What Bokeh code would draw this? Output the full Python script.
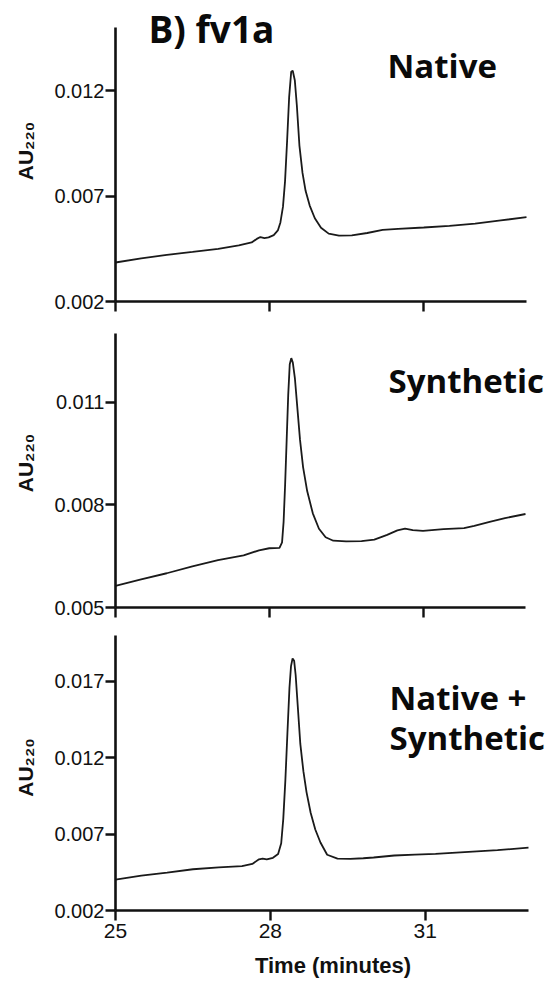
from bokeh.plotting import figure
from bokeh.layouts import column
from bokeh.models import FixedTicker, PrintfTickFormatter, Label, Range1d
from bokeh.embed import file_html
from bokeh.resources import INLINE

# ---------------- data ----------------
t_native = [25.0, 25.5, 26.0, 26.5, 27.0, 27.4, 27.65, 27.75, 27.82, 27.9, 27.98, 28.08, 28.16,
            28.21, 28.26, 28.30, 28.34, 28.38, 28.42, 28.45, 28.49, 28.53, 28.58, 28.64, 28.70,
            28.78, 28.88, 29.0, 29.15, 29.35, 29.6, 29.9, 30.2, 30.5, 31.0, 31.5, 32.0, 32.5, 33.0]
au_native = [0.00385, 0.00405, 0.00421, 0.00435, 0.00450, 0.00466, 0.00480, 0.00497, 0.00506,
             0.00501, 0.00504, 0.00515, 0.00537, 0.00575, 0.00650, 0.00770, 0.00960, 0.01170,
             0.01290, 0.01295, 0.01250, 0.01130, 0.00940, 0.00810, 0.00725, 0.00655, 0.00595,
             0.00550, 0.00522, 0.00513, 0.00514, 0.00525, 0.00540, 0.00545, 0.00551, 0.00559,
             0.00569, 0.00585, 0.00600]

t_synth = [25.0, 25.5, 26.0, 26.5, 27.0, 27.5, 27.8, 28.0, 28.2, 28.25, 28.28, 28.31, 28.34,
           28.37, 28.40, 28.43, 28.46, 28.50, 28.55, 28.60, 28.66, 28.74, 28.85, 28.97, 29.1,
           29.25, 29.5, 29.8, 30.05, 30.3, 30.5, 30.65, 30.8, 31.0, 31.4, 31.8, 32.0, 32.3,
           32.6, 33.0]
au_synth = [0.00563, 0.00582, 0.00600, 0.00620, 0.00638, 0.00652, 0.00667, 0.00673, 0.00674,
            0.00690, 0.00750, 0.00860, 0.00990, 0.01120, 0.01210, 0.01228, 0.01215, 0.01170,
            0.01080, 0.00990, 0.00910, 0.00840, 0.00775, 0.00730, 0.00705, 0.00695, 0.00693,
            0.00694, 0.00698, 0.00712, 0.00725, 0.00730, 0.00726, 0.00724, 0.00729, 0.00732,
            0.00738, 0.00750, 0.00761, 0.00773]

t_mix = [25.0, 25.5, 26.0, 26.5, 27.0, 27.45, 27.65, 27.78, 27.85, 27.93, 28.05, 28.15, 28.21,
         28.25, 28.29, 28.33, 28.37, 28.40, 28.43, 28.46, 28.49, 28.53, 28.58, 28.64, 28.70,
         28.78, 28.87, 28.97, 29.1, 29.3, 29.55, 29.8, 30.0, 30.4, 30.8, 31.2, 31.6, 32.0,
         32.4, 33.0]
au_mix = [0.00402, 0.00428, 0.00448, 0.00470, 0.00482, 0.00490, 0.00505, 0.00535, 0.00540,
          0.00534, 0.00545, 0.00570, 0.00640, 0.00800, 0.01050, 0.01360, 0.01660, 0.01800,
          0.01850, 0.01835, 0.01740, 0.01540, 0.01290, 0.01110, 0.00975, 0.00840, 0.00730,
          0.00645, 0.00565, 0.00540, 0.00538, 0.00542, 0.00547, 0.00560, 0.00566, 0.00570,
          0.00579, 0.00587, 0.00595, 0.00611]

x_ticks = [25, 28, 31]
y_ticks_native = [0.002, 0.007, 0.012]
y_ticks_synth = [0.005, 0.008, 0.011]
y_ticks_mix = [0.002, 0.007, 0.012, 0.017]
y_bounds_native = (0.002, 0.015)
y_bounds_synth = (0.005, 0.013)
y_bounds_mix = (0.002, 0.020)
x_bounds = (25, 33)

panel_titles = ["Native", "Synthetic", ["Native +", "Synthetic"]]
main_title = "B) fv1a"
x_title = "Time (minutes)"
y_title = "AU\u2082\u2082\u2080"

LINE = "#1a1a1a"
AX = "#111111"
BOLD_FONT = "Open Sans"
TICK_FONT = "Liberation Sans"
DY = 15


def make_panel(t, y, yticks, ybounds, left, top, axis_h, fw, bottom, px_per_min, show_x_labels):
    # frame spans from canvas top (top px above the axis end) to the x axis
    x_end = x_bounds[0] + fw / px_per_min
    y_end = ybounds[1] + top / axis_h * (ybounds[1] - ybounds[0])
    p = figure(frame_width=fw, frame_height=axis_h + top, output_backend="svg",
               toolbar_location=None,
               x_range=Range1d(x_bounds[0], x_end), y_range=Range1d(ybounds[0], y_end),
               min_border_left=left, min_border_top=0, min_border_bottom=bottom,
               min_border_right=0)
    p.line(t, y, line_color=LINE, line_width=1.8)
    p.xgrid.visible = False
    p.ygrid.visible = False
    p.outline_line_color = None
    p.background_fill_color = "white"
    for ax in (p.xaxis[0], p.yaxis[0]):
        ax.axis_line_width = 2.6
        ax.axis_line_color = AX
        ax.major_tick_line_width = 2.4
        ax.major_tick_line_color = AX
        ax.major_tick_out = 10
        ax.major_tick_in = 0
        ax.minor_tick_line_color = None
        ax.major_label_text_font = TICK_FONT
        ax.major_label_text_color = "#111111"
    p.xaxis.bounds = x_bounds
    p.yaxis.bounds = ybounds
    p.xaxis.ticker = FixedTicker(ticks=x_ticks)
    p.yaxis.ticker = FixedTicker(ticks=yticks)
    p.yaxis.formatter = PrintfTickFormatter(format="%.3f")
    p.yaxis.major_label_text_font_size = "20px"
    p.yaxis.major_label_standoff = 1
    p.yaxis.axis_label = y_title
    p.yaxis.axis_label_text_font = TICK_FONT
    p.yaxis.axis_label_text_font_style = "bold"
    p.yaxis.axis_label_text_font_size = "21px"
    p.yaxis.axis_label_standoff = 14
    p.yaxis.axis_label_text_color = "#111111"
    if show_x_labels:
        p.xaxis.major_label_text_font_size = "21px"
        p.xaxis.major_label_standoff = 3
        p.xaxis.axis_label = x_title
        p.xaxis.axis_label_text_font = TICK_FONT
        p.xaxis.axis_label_text_font_style = "bold"
        p.xaxis.axis_label_text_font_size = "22px"
        p.xaxis.axis_label_standoff = 12
        p.xaxis.axis_label_text_color = "#111111"
    else:
        p.xaxis.major_label_overrides = {v: "" for v in x_ticks}
        p.xaxis.major_label_text_font_size = "1px"
        p.xaxis.major_label_standoff = 0
    return p


def add_text(p, txt, x, y, size):
    p.add_layout(Label(x=x, y=y + DY, x_units="screen", y_units="screen", text=txt,
                       text_font=BOLD_FONT, text_font_style="bold", text_font_size=size,
                       text_align="left", text_baseline="alphabetic", text_color="#0a0a0a"))


p1 = make_panel(t_native, au_native, y_ticks_native, y_bounds_native,
                left=108, top=27, axis_h=274, fw=442, bottom=17, px_per_min=51.375,
                show_x_labels=False)
add_text(p1, main_title, 33, 258, "37px")
add_text(p1, panel_titles[0], 272, 221, "33px")

p2 = make_panel(t_synth, au_synth, y_ticks_synth, y_bounds_synth,
                left=112, top=15, axis_h=274, fw=438, bottom=17, px_per_min=51.25,
                show_x_labels=False)
add_text(p2, panel_titles[1], 273, 212, "33px")

p3 = make_panel(t_mix, au_mix, y_ticks_mix, y_bounds_mix,
                left=115, top=11, axis_h=275, fw=435, bottom=73, px_per_min=51.625,
                show_x_labels=True)
add_text(p3, panel_titles[2][0], 274, 198, "33px")
add_text(p3, panel_titles[2][1], 274, 158, "33px")

layout = column(p1, p2, p3, spacing=0)
open("out.html", "w").write(file_html(layout, INLINE))
